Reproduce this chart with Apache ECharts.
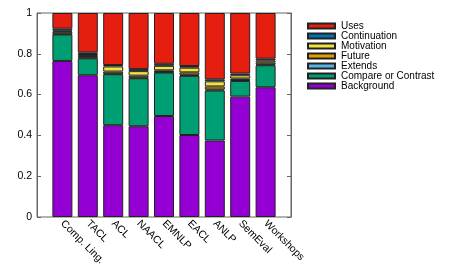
<!DOCTYPE html>
<html>
<head>
<meta charset="utf-8">
<script src="https://cdn.jsdelivr.net/npm/echarts@6/dist/echarts.min.js"></script>
<style>html,body{margin:0;padding:0;background:#fff}#c{width:450px;height:270px}</style>
</head>
<body>
<div id="c"></div>
<script>
const categories = ['Comp. Ling.', 'TACL', 'ACL', 'NAACL', 'EMNLP', 'EACL', 'ANLP', 'SemEval', 'Workshops'];
const background   = [0.765, 0.695, 0.450, 0.445, 0.495, 0.402, 0.375, 0.590, 0.636];
const compare      = [0.130, 0.083, 0.250, 0.235, 0.213, 0.290, 0.245, 0.077, 0.108];
const extendsVals  = [0.003, 0.003, 0.003, 0.003, 0.003, 0.005, 0.005, 0.004, 0.004];
const future       = [0.010, 0.008, 0.010, 0.010, 0.008, 0.012, 0.015, 0.008, 0.010];
const motivation   = [0.005, 0.010, 0.025, 0.022, 0.022, 0.023, 0.025, 0.016, 0.010];
const continuation = [0.010, 0.008, 0.007, 0.010, 0.010, 0.008, 0.010, 0.008, 0.008];
const uses         = [0.077, 0.193, 0.255, 0.275, 0.249, 0.260, 0.325, 0.297, 0.224];
const yTicks = [0, 0.2, 0.4, 0.6, 0.8, 1];

const seriesDefs = [
  ['Background', background, '#9400d3'],
  ['Compare or Contrast', compare, '#009e73'],
  ['Extends', extendsVals, '#56b4e9'],
  ['Future', future, '#e69f00'],
  ['Motivation', motivation, '#f0e442'],
  ['Continuation', continuation, '#0072b2'],
  ['Uses', uses, '#e51e10']
];

// padded category list: one empty slot on each side (axis spans -1 .. 9)
const axisCats = [''].concat(categories, ['']);

const chart = echarts.init(document.getElementById('c'), null, {renderer: 'canvas'});
const font = 'Liberation Sans, Arial, sans-serif';
chart.setOption({
  animation: false,
  grid: {left: 37, top: 13, width: 254, height: 204, show: true, borderColor: '#666', borderWidth: 1, outerBoundsMode: 'none', containLabel: false},
  legend: {
    orient: 'vertical', left: 307, top: 21, padding: 0, itemWidth: 27, itemHeight: 5, itemGap: 0,
    icon: 'rect',
    data: seriesDefs.map(s => s[0]).reverse(),
    textStyle: {fontSize: 10, fontFamily: font, color: '#000', lineHeight: 10, padding: [0, 0, 0, 1]}
  },
  xAxis: {
    type: 'category', data: axisCats, boundaryGap: false,
    axisLine: {show: false}, axisTick: {show: false}, splitLine: {show: false},
    axisLabel: {
      rotate: -45, margin: 5, fontSize: 10.5, fontFamily: font, color: '#000', interval: 0
    }
  },
  yAxis: [
    {
      type: 'value', min: 0, max: 1, interval: 0.2, position: 'left',
      axisLine: {show: true, lineStyle: {color: '#666'}}, splitLine: {show: false},
      axisTick: {show: true, inside: true, length: 4, lineStyle: {color: '#666'}},
      axisLabel: {fontSize: 10.5, fontFamily: font, color: '#000', margin: 5,
        formatter: v => String(Math.round(v * 10) / 10)}
    },
    {
      type: 'value', min: 0, max: 1, interval: 0.2, position: 'right',
      axisLine: {show: true, lineStyle: {color: '#666'}}, splitLine: {show: false},
      axisTick: {show: true, inside: true, length: 4, lineStyle: {color: '#666'}},
      axisLabel: {show: false}
    }
  ],
  series: seriesDefs.map(([name, vals, color]) => ({
    name, type: 'bar', stack: 'all', barWidth: 20,
    itemStyle: {color, borderColor: '#222', borderWidth: 1},
    data: [null].concat(vals, [null])
  }))
});
</script>
</body>
</html>
